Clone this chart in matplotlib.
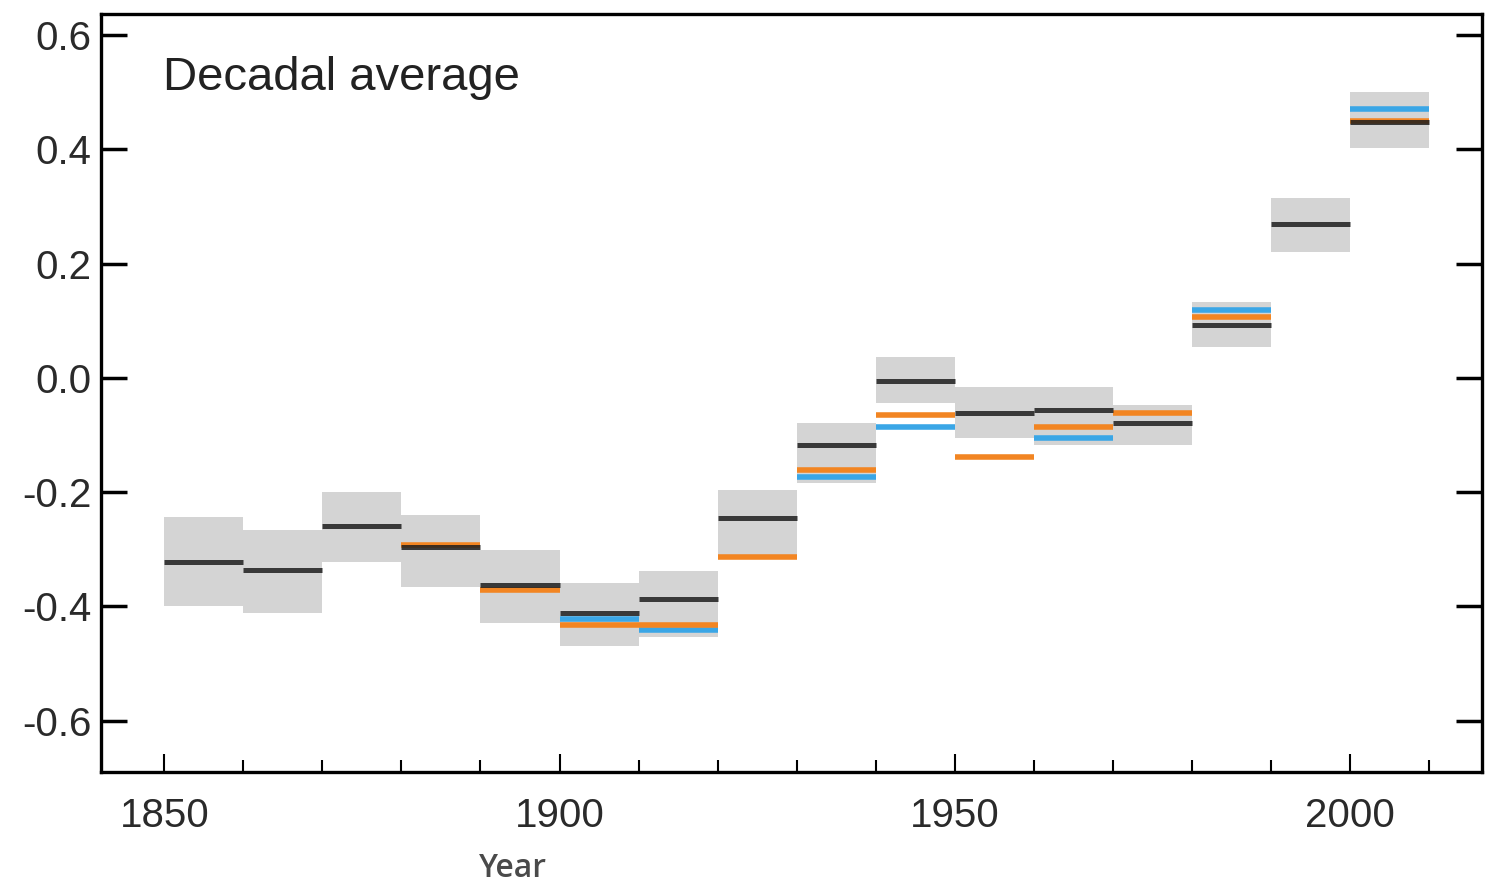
import matplotlib.pyplot as plt
import numpy as np

# decadal averages of temperature anomaly
decades = np.arange(1850, 2010, 10)
black_vals = [-0.322, -0.336, -0.259, -0.296, -0.362, -0.411, -0.388, -0.245,
              -0.117, -0.005, -0.061, -0.056, -0.079, 0.093, 0.269, 0.448]
orange_vals = [np.nan, np.nan, np.nan, -0.292, -0.371, -0.432, -0.432, -0.313,
               -0.161, -0.065, -0.138, -0.086, -0.061, 0.107, np.nan, 0.449]
blue_vals = [np.nan, np.nan, np.nan, np.nan, np.nan, -0.423, -0.441, np.nan,
             -0.173, -0.086, np.nan, -0.105, np.nan, 0.119, np.nan, 0.471]
box_low = [-0.400, -0.411, -0.322, -0.366, -0.429, -0.470, -0.453, -0.318,
           -0.184, -0.044, -0.105, -0.117, -0.117, 0.054, 0.220, 0.402]
box_high = [-0.243, -0.266, -0.200, -0.240, -0.301, -0.359, -0.339, -0.196,
            -0.079, 0.037, -0.016, -0.016, -0.047, 0.133, 0.315, 0.500]
yticks = [-0.6, -0.4, -0.2, 0.0, 0.2, 0.4, 0.6]
xticks = [1850, 1900, 1950, 2000]

plt.rcParams['font.family'] = ['Liberation Sans', 'DejaVu Sans']

fig = plt.figure(figsize=(14.86, 8.86), dpi=100)
ax = fig.add_axes([0.068, 0.1287, 0.9293, 0.8555])

low = np.array(box_low)
high = np.array(box_high)
ax.bar(decades, high - low, bottom=low, width=10, align='edge',
       color='#d4d4d4', edgecolor='none', zorder=1)

ax.hlines(blue_vals, decades, decades + 10, color='#3aa6e6', lw=4, zorder=2)
ax.hlines(orange_vals, decades, decades + 10, color='#f28522', lw=4, zorder=3)
ax.hlines(black_vals, decades, decades + 10, color='#1e1e1e', lw=3.6,
          alpha=0.85, zorder=4)

ax.set_xlim(1842, 2016.7)
ax.set_ylim(-0.69, 0.637)
ax.set_yticks(yticks)
ax.set_yticklabels([f"{v:.1f}" for v in yticks])
ax.set_xticks(xticks)
ax.set_xticks(np.arange(1850, 2020, 10), minor=True)

ax.tick_params(axis='y', which='major', direction='in', length=19, width=2.5,
               right=True, labelsize=29, pad=7, labelcolor='#2a2a2a')
ax.tick_params(axis='x', which='major', direction='in', length=13, width=1.5,
               labelsize=29, pad=18, labelcolor='#2a2a2a')
ax.tick_params(axis='x', which='minor', direction='in', length=9, width=1.5)

for s in ax.spines.values():
    s.set_linewidth(2.4)

ax.text(0.045, 0.915, "Decadal average", transform=ax.transAxes,
        fontsize=34, color='#222222', va='center', ha='left')

fig.text(0.345, 0.02, "Year", fontsize=23, fontweight='semibold',
         family=['Open Sans', 'DejaVu Sans'], color='#4a4a4a',
         ha='center', va='center')

plt.savefig('out.png', dpi=100)
